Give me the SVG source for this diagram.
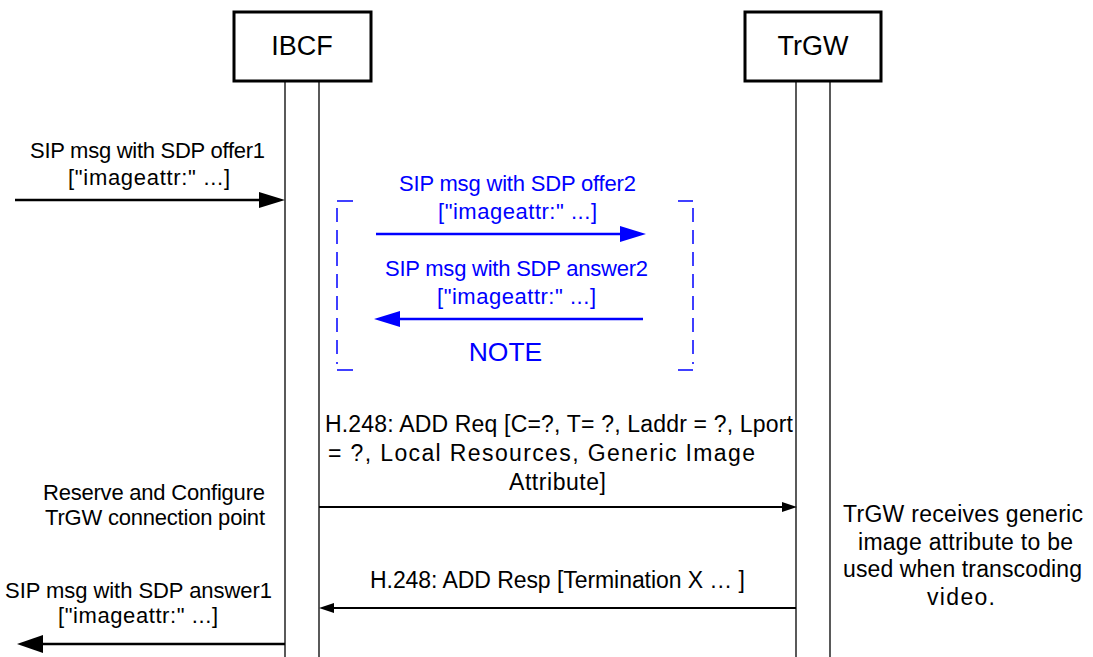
<svg xmlns="http://www.w3.org/2000/svg" width="1093" height="657" viewBox="0 0 1093 657">
<defs>
<style>
text{font-family:"Liberation Sans",Arial,sans-serif;font-size:22px;fill:#000;text-anchor:middle}
.blue{fill:#0000ff}
.big{font-size:23px}
.ent{fill:#fff;stroke:#000;stroke-width:3}
.life{stroke:#000;stroke-width:1.3;fill:none}
.msg{stroke:#000;stroke-width:2;fill:none}
.bmsg{stroke:#0000ff;stroke-width:2.5;fill:none}
.br{stroke:#0000ff;stroke-width:1.5;fill:none}
.brd{stroke:#0000ff;stroke-width:1.5;fill:none;stroke-dasharray:14,8}
</style>
</defs>
<g id="IBCF">
<rect class="ent" x="234" y="12" width="137" height="69"/>
<text x="302" y="55" style="font-size:27px">IBCF</text>
<line class="life" x1="285" y1="81" x2="285" y2="657"/>
<line class="life" x1="319" y1="81" x2="319" y2="657"/>
</g>
<g id="TrGW">
<rect class="ent" x="745" y="12" width="136" height="69"/>
<text x="813" y="55" style="font-size:27px">TrGW</text>
<line class="life" x1="796" y1="81" x2="796" y2="657"/>
<line class="life" x1="830" y1="81" x2="830" y2="657"/>
</g>
<g id="note-bracket">
<line class="br" x1="337" y1="201" x2="353" y2="201"/>
<line class="brd" x1="337" y1="208" x2="337" y2="364"/>
<line class="br" x1="337" y1="370" x2="353" y2="370"/>
<line class="br" x1="678" y1="201" x2="693" y2="201"/>
<line class="brd" x1="693" y1="208" x2="693" y2="364"/>
<line class="br" x1="678" y1="370" x2="693" y2="370"/>
<text class="blue" x="505.5" y="361" style="font-size:26.5px">NOTE</text>
</g>
<g id="connectors">
<line class="msg" x1="15" y1="200" x2="262" y2="200" style="stroke-width:2.5"/>
<polygon points="285,200 259,192 259,208" fill="#000"/>
<line class="bmsg" x1="376" y1="234" x2="622" y2="234"/>
<polygon points="646,234 620,226 620,242" fill="#0000ff"/>
<line class="bmsg" x1="643" y1="319" x2="398" y2="319"/>
<polygon points="374,319 400,311 400,327" fill="#0000ff"/>
<line class="msg" x1="319" y1="507" x2="785" y2="507"/>
<polygon points="797,507 782,502 782,512" fill="#000"/>
<line class="msg" x1="796" y1="608" x2="331" y2="608"/>
<polygon points="319,608 334,603 334,613" fill="#000"/>
<line class="msg" x1="285" y1="644" x2="40" y2="644" style="stroke-width:2.5"/>
<polygon points="17,644 43,635 43,653" fill="#000"/>
</g>
<g id="labels">
<text x="147.5" y="158" textLength="235">SIP msg with SDP offer1</text>
<text x="149" y="185" textLength="162">["imageattr:" ...]</text>
<text class="blue" x="517.5" y="191" textLength="237">SIP msg with SDP offer2</text>
<text class="blue" x="517.5" y="219" textLength="159">["imageattr:" ...]</text>
<text class="blue" x="516.5" y="276" textLength="263">SIP msg with SDP answer2</text>
<text class="blue" x="516.5" y="304" textLength="159">["imageattr:" ...]</text>
<text class="big" x="559" y="432" textLength="468">H.248:  ADD Req [C=?, T= ?, Laddr = ?, Lport</text>
<text class="big" x="541.5" y="461" textLength="427">= ?, Local Resources, Generic Image</text>
<text class="big" x="557.5" y="490" textLength="97">Attribute]</text>
<text x="154" y="500" textLength="222">Reserve and Configure</text>
<text x="155" y="525" textLength="220">TrGW connection point</text>
<text class="big" x="963" y="522" textLength="240">TrGW receives generic</text>
<text class="big" x="965.5" y="550" textLength="215">image attribute to be</text>
<text class="big" x="962.5" y="577" textLength="239">used when transcoding</text>
<text class="big" x="961" y="605" textLength="68">video.</text>
<text class="big" x="557.5" y="588" textLength="375">H.248: ADD Resp [Termination X … ]</text>
<text x="138.5" y="598" textLength="267">SIP msg with SDP answer1</text>
<text x="138" y="623" textLength="160">["imageattr:" ...]</text>
</g>
</svg>
